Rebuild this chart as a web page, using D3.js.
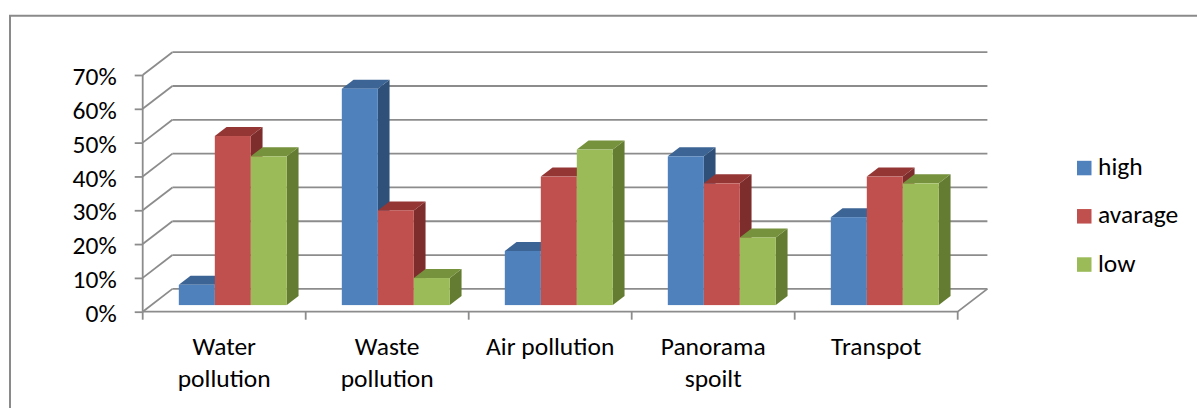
<!DOCTYPE html>
<html>
<head>
<meta charset="utf-8">
<script src="https://cdn.jsdelivr.net/npm/d3@7"></script>
<style>
  html, body { margin: 0; padding: 0; background: #fff; }
  svg { display: block; }
  text { font-family: Carlito, Lato, "Open Sans", sans-serif; fill: #000; }
</style>
</head>
<body>
<svg id="chart" width="1197" height="408"></svg>
<script>
// Survey answers per environmental issue (share of respondents)
const categories = ["Water pollution", "Waste pollution", "Air pollution", "Panorama spoilt", "Transpot"];
const categoryLines = [["Water", "pollution"], ["Waste", "pollution"], ["Air pollution"], ["Panorama", "spoilt"], ["Transpot"]];
const seriesNames = ["high", "avarage", "low"];
const high = [0.06, 0.64, 0.16, 0.44, 0.26];
const avarage = [0.50, 0.28, 0.38, 0.36, 0.38];
const low = [0.44, 0.08, 0.46, 0.20, 0.36];
const yTicks = [0, 0.1, 0.2, 0.3, 0.4, 0.5, 0.6, 0.7];

const seriesValues = [high, avarage, low];
const faceColors = [
  { front: "#4F81BD", top: "#3C6494", side: "#2F5078" },
  { front: "#C0504D", top: "#943634", side: "#7D2E2C" },
  { front: "#9BBB59", top: "#76923C", side: "#647C31" }
];

const FONT = 25.5;
const svg = d3.select("#chart");
const gridColor = "#8c8c8c";

// Outer chart frame
svg.append("path")
  .attr("d", "M10,408 V15.8 H1197")
  .attr("fill", "none").attr("stroke", "#8a8a8a").attr("stroke-width", 2);

// Front-plane scales and depth direction of the 3-D box
const x = d3.scaleBand().domain(categories).range([142.7, 957.7]).padding(0);
const xs = d3.scaleBand().domain(seriesNames).range([27.5, 135.5]).padding(0);
const y = d3.scaleLinear().domain([0, 0.7]).range([311.7, 75]);
const DX = 29.7, DY = -22.8;
const d0 = 0.29, d1 = 0.685;   // bar depth span inside the box

const x0 = x.range()[0], x1 = x.range()[1];

// Back wall and side wall gridlines
const grid = svg.append("g").attr("stroke", gridColor).attr("stroke-width", 1.8).attr("fill", "none");
yTicks.forEach(t => {
  grid.append("line")
    .attr("x1", x0 + DX).attr("x2", x1 + DX)
    .attr("y1", y(t) + DY).attr("y2", y(t) + DY);
  grid.append("line")
    .attr("x1", x0).attr("x2", x0 + DX)
    .attr("y1", y(t)).attr("y2", y(t) + DY);
});
// Floor outline
grid.append("path")
  .attr("d", `M${x0},${y(0)} H${x1} L${x1 + DX},${y(0) + DY}`);

// Value axis with tick labels
const yAxis = svg.append("g")
  .attr("transform", `translate(${x0},0)`)
  .call(d3.axisLeft(y).tickValues(yTicks).tickFormat(d3.format(".0%")).tickSize(8).tickPadding(18));
yAxis.select(".domain").attr("stroke", gridColor).attr("stroke-width", 1.8)
  .attr("d", `M0,${y(0.7)} V${y(0)}`);
yAxis.selectAll(".tick line").attr("stroke", gridColor).attr("stroke-width", 1.8);
yAxis.selectAll(".tick text").attr("font-size", FONT).attr("dy", "0.38em")
  .style("font-family", "Carlito, Lato, 'Open Sans', sans-serif").attr("fill", "#000");

// Category axis ticks at band boundaries
const catAxis = svg.append("g").attr("transform", `translate(0,${y(0)})`);
const boundaries = categories.map(c => x(c)).concat([x1]);
catAxis.selectAll("line").data(boundaries).join("line")
  .attr("x1", d => d).attr("x2", d => d)
  .attr("y1", 0).attr("y2", 8)
  .attr("stroke", gridColor).attr("stroke-width", 1.8);

// Category labels
const labels = svg.append("g");
categories.forEach((c, i) => {
  const t = labels.append("text")
    .attr("x", x(c) + x.bandwidth() / 2)
    .attr("y", 355)
    .attr("text-anchor", "middle")
    .attr("font-size", FONT);
  categoryLines[i].forEach((line, j) => {
    t.append("tspan")
      .attr("x", x(c) + x.bandwidth() / 2)
      .attr("dy", j === 0 ? 0 : 32)
      .text(line);
  });
});

// 3-D bars, drawn left to right so nearer faces cover neighbours' sides
const bars = svg.append("g");
const ox0 = d0 * DX, oy0 = d0 * DY, ox1 = d1 * DX, oy1 = d1 * DY;
categories.forEach((c, ci) => {
  seriesNames.forEach((s, si) => {
    const v = seriesValues[si][ci];
    const left = x(c) + xs(s), right = left + xs.bandwidth();
    const top = y(v), bottom = y(0);
    const col = faceColors[si];
    const g = bars.append("g");
    // side face
    g.append("path")
      .attr("d", `M${right + ox0},${top + oy0} L${right + ox1},${top + oy1} L${right + ox1},${bottom + oy1} L${right + ox0},${bottom + oy0} Z`)
      .attr("fill", col.side);
    // top face
    g.append("path")
      .attr("d", `M${left + ox0},${top + oy0} L${left + ox1},${top + oy1} L${right + ox1},${top + oy1} L${right + ox0},${top + oy0} Z`)
      .attr("fill", col.top);
    // front face
    g.append("rect")
      .attr("x", left + ox0).attr("y", top + oy0)
      .attr("width", right - left).attr("height", bottom - top)
      .attr("fill", col.front);
  });
});

// Legend
const legend = svg.append("g");
const legendY = d3.scalePoint().domain(seriesNames).range([168, 264.5]);
seriesNames.forEach((s, si) => {
  const cy = legendY(s);
  legend.append("rect")
    .attr("x", 1077).attr("y", cy - 7.2)
    .attr("width", 14.5).attr("height", 14.5)
    .attr("fill", faceColors[si].front);
  legend.append("text")
    .attr("x", 1098).attr("y", cy + 7.2)
    .attr("font-size", FONT)
    .text(s);
});
</script>
</body>
</html>
